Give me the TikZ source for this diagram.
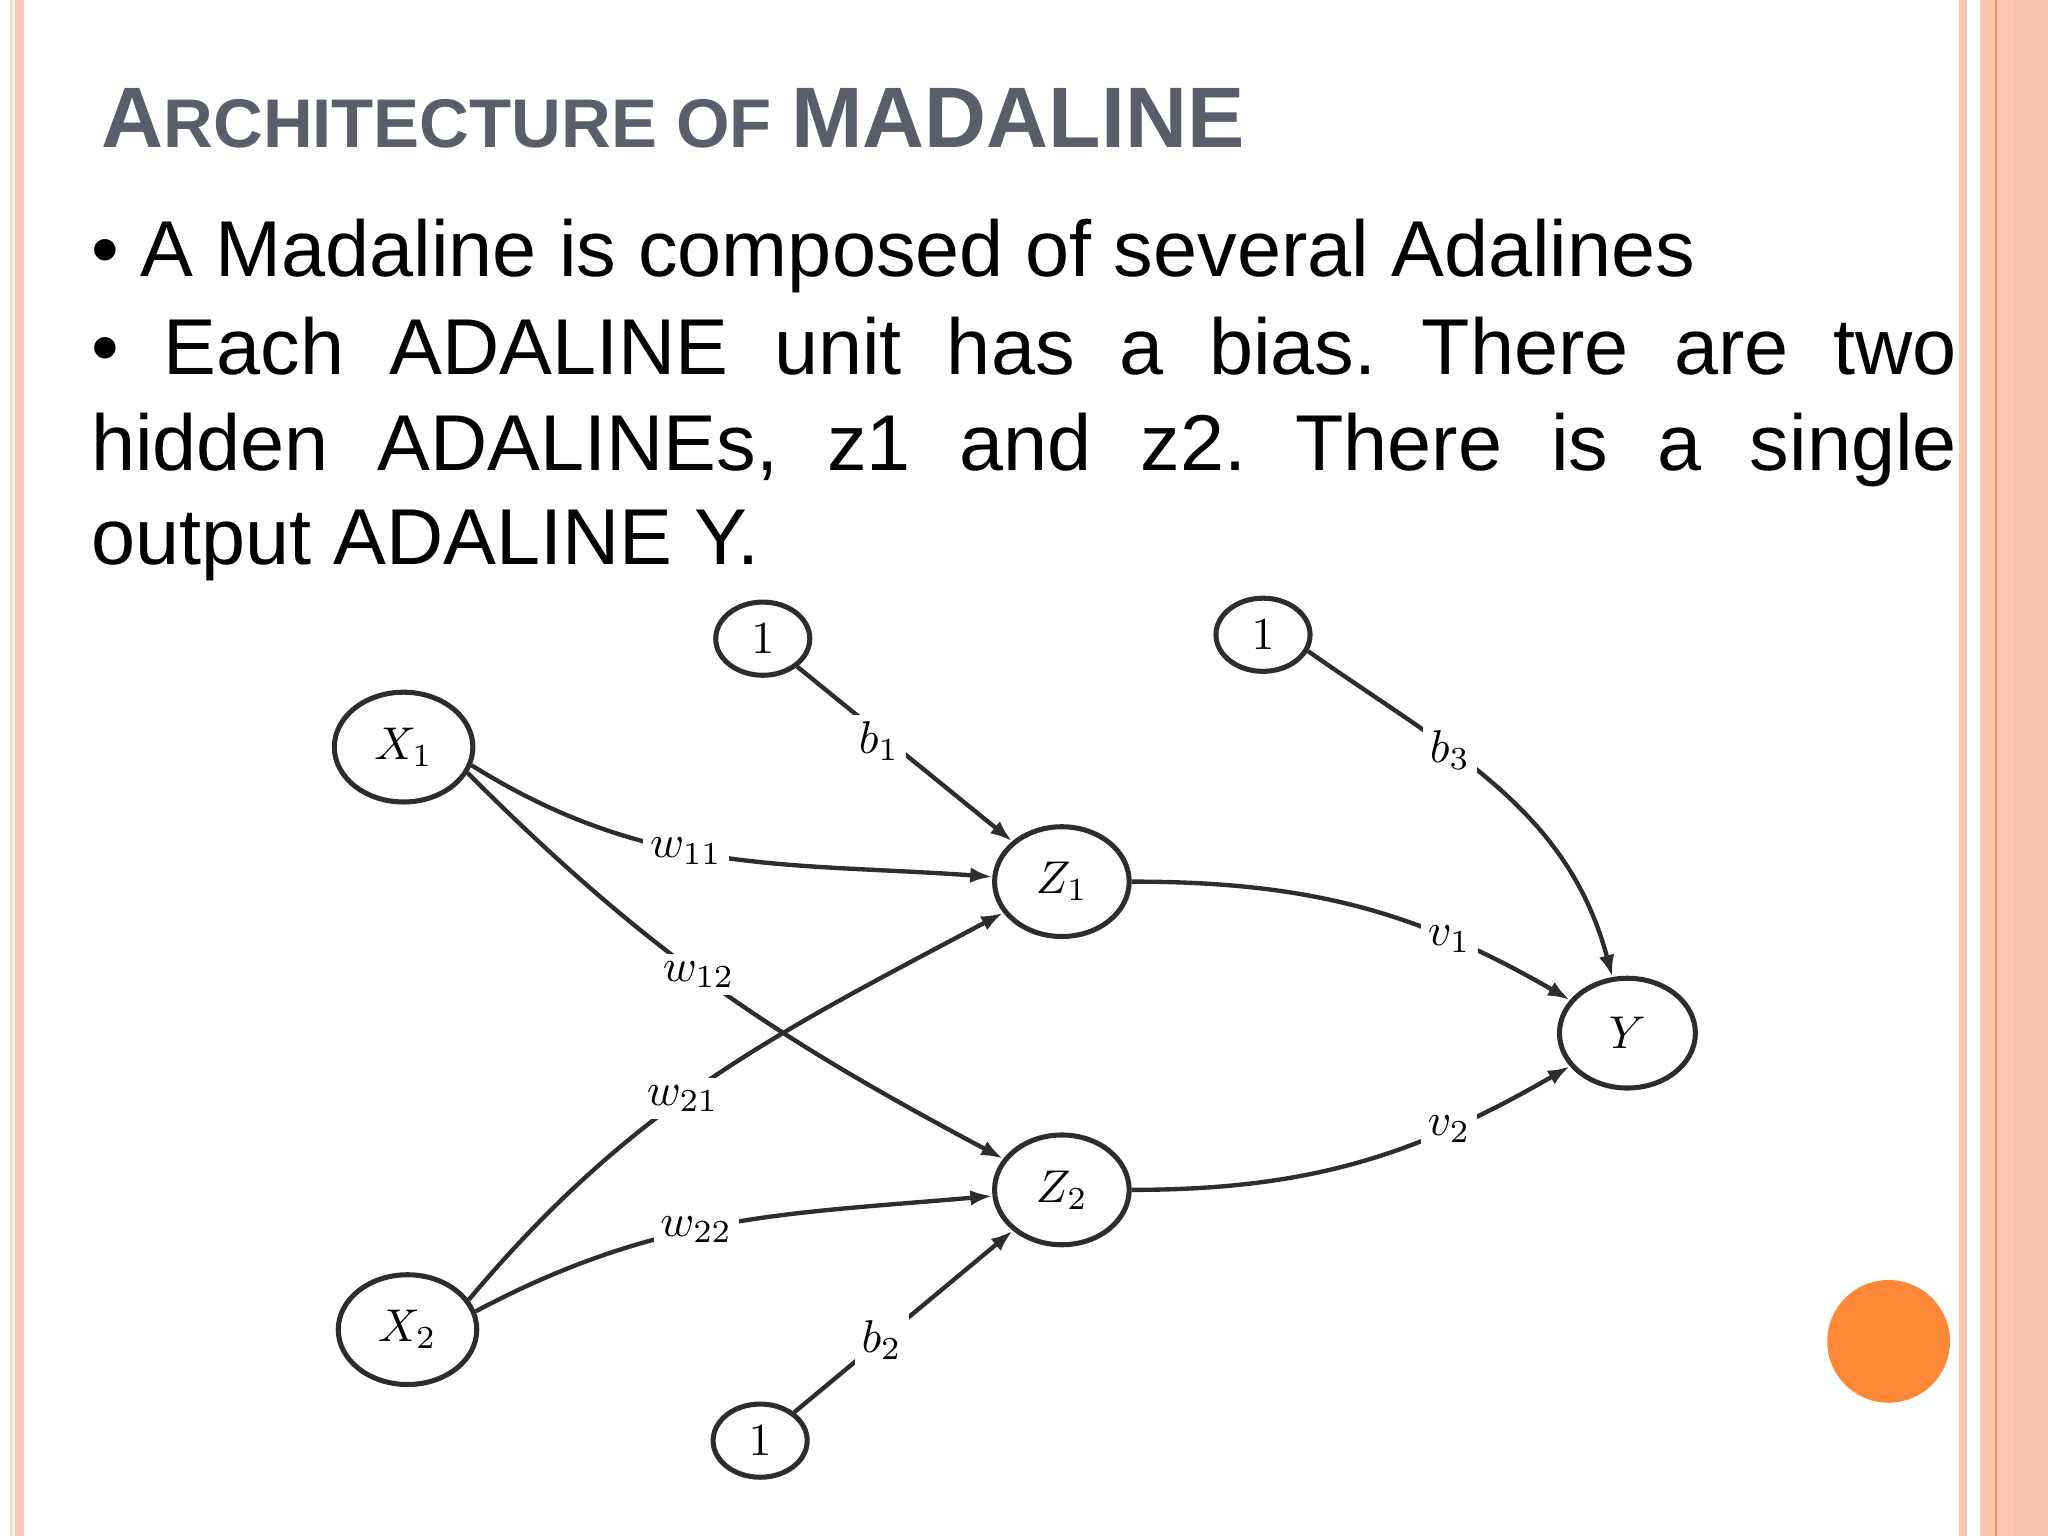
\documentclass[tikz,border=0pt]{standalone}
\usepackage{fontspec}
\setmainfont{Liberation Sans}
\usetikzlibrary{shapes.geometric,arrows.meta}
\definecolor{titlegray}{RGB}{90,94,106}
\definecolor{stripepink}{RGB}{252,198,180}
\definecolor{stripelight}{RGB}{248,214,202}
\definecolor{stripeline}{RGB}{238,138,80}
\definecolor{dotorange}{RGB}{253,137,56}
\definecolor{netgray}{RGB}{45,45,45}
\frenchspacing
\tikzset{
  unit/.style={draw=netgray, line width=1.1pt, ellipse, inner sep=0pt,
    minimum width=1.06cm, minimum height=0.84cm, font=\fontsize{10}{11}\selectfont},
  biasunit/.style={unit, minimum width=0.72cm, minimum height=0.56cm},
  wlabel/.style={fill=white, inner sep=1.5pt, font=\fontsize{10}{11}\selectfont},
  link/.style={draw=netgray, line width=0.95pt, ->},
  bodytext/.style={anchor=base west, inner sep=0pt, font=\fontsize{17.25}{20.9}\selectfont}
}

\begin{document}
\begin{tikzpicture}[x=0.01cm, y=0.01cm, >={Latex[length=4.8pt,width=3.4pt]}]
  \useasboundingbox (0,0) rectangle (1568,-1176);
  % slide border
  \fill[stripelight] (7.7,0) rectangle (9.7,-1176);
  \fill[stripepink] (11.7,0) rectangle (18.4,-1176);
  \fill[stripepink] (1500,0) rectangle (1506,-1176);
  \fill[stripepink] (1516,0) rectangle (1568,-1176);
  \fill[stripepink!94!stripeline] (1542,0) rectangle (1568,-1176);
  \fill[stripeline] (1527.8,0) rectangle (1529.3,-1176);
  \fill[dotorange] (1446,-1027) circle (47);

  % text
  \node[anchor=base west, inner sep=0pt, text=titlegray, font=\bfseries] (title) at (77,-113)
    {\fontsize{18.7}{20}\selectfont A\fontsize{15}{16}\selectfont RCHITECTURE OF
     \fontsize{18.7}{20}\selectfont MADALINE};
  \node[bodytext] (line1) at (69,-212) {• A Madaline is composed of several Adalines};
  \node[bodytext] (line2) at (69,-287)
    {\makebox[14.28cm][s]{• Each ADALINE unit has a bias. There are two}};
  \node[bodytext] (line3) at (69,-360)
    {\makebox[14.28cm][s]{hidden ADALINEs, z1 and z2. There is a single}};
  \node[bodytext] (line4) at (69,-432) {output ADALINE Y.};

  % network
  \node[unit] (x1) at (309,-572) {$X_1$};
  \node[unit] (x2) at (312,-1018) {$X_2$};
  \node[biasunit] (one1) at (584,-489) {$1$};
  \node[biasunit] (one2) at (582,-1103) {$1$};
  \node[biasunit] (one3) at (967,-486) {$1$};
  \node[unit, minimum width=1.03cm] (z1) at (813,-675) {$Z_1$};
  \node[unit, minimum width=1.03cm] (z2) at (813,-911) {$Z_2$};
  \node[unit, minimum width=1.04cm] (y) at (1246,-791) {$Y$};

  \draw[link] (one1) -- node[wlabel, pos=0.38, yshift=-0.06cm] {$b_1$} (z1);
  \draw[link] (x1.-15) to[out=-32, in=176] node[wlabel, pos=0.43] {$w_{11}$} (z1);
  \draw[link] (x1.-22) to[out=-45, in=152] node[wlabel, pos=0.46] {$w_{12}$} (z2);
  \draw[link] (x2.26) to[out=50, in=-152] node[wlabel, pos=0.44] {$w_{21}$} (z1);
  \draw[link] (x2.15) to[out=28, in=185] node[wlabel, pos=0.44] {$w_{22}$} (z2);
  \draw[link] (one2) -- node[wlabel, pos=0.4] {$b_2$} (z2);
  \draw[link] (z1) to[out=0, in=150] node[wlabel, pos=0.72] {$v_1$} (y);
  \draw[link] (z2) to[out=0, in=-150] node[wlabel, pos=0.72] {$v_2$} (y);
  \draw[link] (one3.-20) to[out=-35, in=105] node[wlabel, pos=0.36] {$b_3$} (y);
\end{tikzpicture}
\end{document}
